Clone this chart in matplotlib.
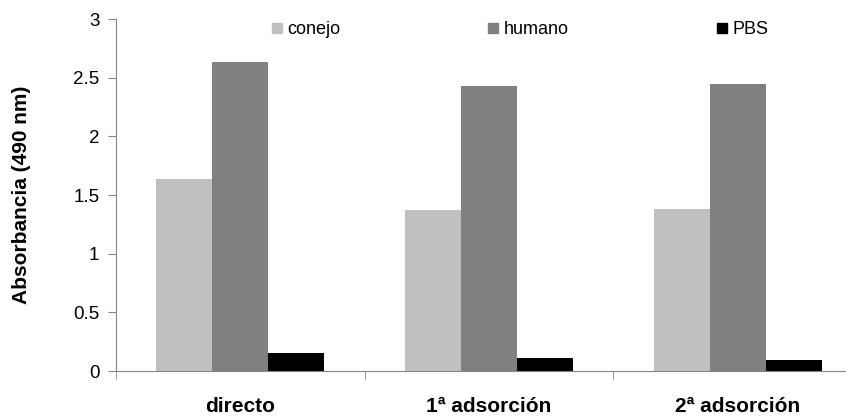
import numpy as np
from matplotlib import pyplot as plt
from matplotlib.patches import Patch

plt.rcParams['font.family'] = ['Liberation Sans', 'DejaVu Sans']

categories = ["directo", "1ª adsorción", "2ª adsorción"]
series_names = ["conejo", "humano", "PBS"]
conejo = [1.64, 1.37, 1.38]
humano = [2.63, 2.43, 2.45]
pbs = [0.15, 0.11, 0.09]
colors = ["#c0c0c0", "#808080", "#000000"]
yticks = [0, 0.5, 1, 1.5, 2, 2.5, 3]
ytick_labels = ["0", "0.5", "1", "1.5", "2", "2.5", "3"]

fig = plt.figure(figsize=(8.46, 4.17), dpi=100)
# plot area runs past the right edge, as in the cropped original
ax = fig.add_axes([116 / 846, 46 / 417, 746 / 846, 352 / 417])

x = np.arange(len(categories))
w = 0.225
for i, (vals, c) in enumerate(zip([conejo, humano, pbs], colors)):
    ax.bar(x + (i - 1) * w, vals, width=w, color=c, label=series_names[i])

ax.set_xlim(-0.5, len(categories) - 0.5)
ax.set_ylim(0, 3)
ax.set_yticks(yticks)
ax.set_yticklabels(ytick_labels, fontsize=13.5)

ax.set_xticks(x)
ax.set_xticklabels(categories, fontsize=15, fontweight='bold')
ax.tick_params(axis='x', length=0, pad=19)
ax.set_xticks(np.arange(len(categories) + 1) - 0.5, minor=True)
ax.tick_params(axis='x', which='minor', length=6, color='#868686')
ax.tick_params(axis='y', length=6, color='#868686', pad=6)

for s in ['top', 'right']:
    ax.spines[s].set_visible(False)
for s in ['left', 'bottom']:
    ax.spines[s].set_color('#868686')

ax.set_ylabel("Absorbancia (490 nm)", fontsize=15, fontweight='bold', labelpad=30)

handles = [Patch(color=c) for c in colors]
ax.legend(handles, series_names, loc='center left', bbox_to_anchor=(0.209, 0.969),
          ncol=3, frameon=False, fontsize=13, handlelength=0.55, handleheight=0.55,
          handletextpad=0.3, columnspacing=8.2, borderaxespad=0, borderpad=0)

fig.savefig("out.png", dpi=100)
